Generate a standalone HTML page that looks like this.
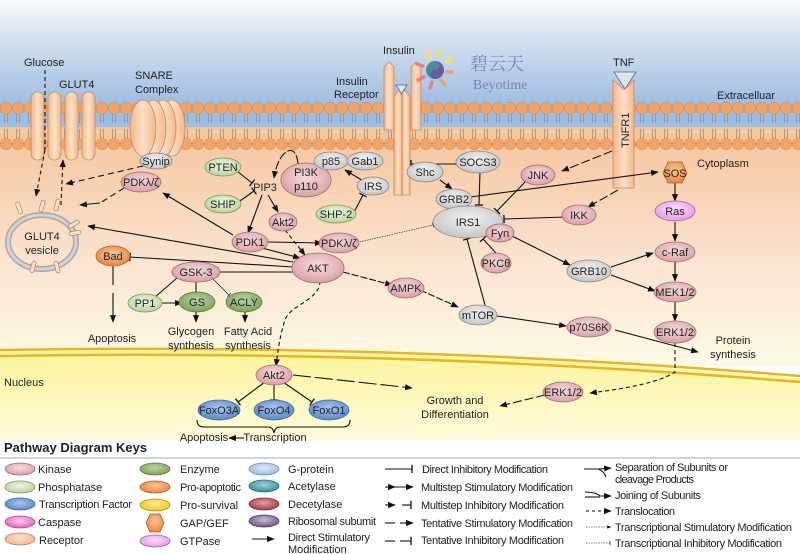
<!DOCTYPE html>
<html><head><meta charset="utf-8"><style>
html,body{margin:0;padding:0;background:#fff}
svg{display:block}
text{font-family:"Liberation Sans","Noto Sans CJK SC",sans-serif;font-size:11px;fill:#222}
.n text,text.c{text-anchor:middle}
</style></head><body>
<svg width="800" height="554" viewBox="0 0 800 554" xmlns="http://www.w3.org/2000/svg">
<defs>
<linearGradient id="bg" x1="0" y1="0" x2="0" y2="1">
<stop offset="0" stop-color="#fbfcfe"/><stop offset="0.35" stop-color="#d6e2f0"/><stop offset="1" stop-color="#9ebde2"/>
</linearGradient>
<linearGradient id="cy" x1="0" y1="0" x2="0" y2="1">
<stop offset="0" stop-color="#f6c49a"/><stop offset="0.55" stop-color="#fbe3cf"/><stop offset="1" stop-color="#fdfbe6"/>
</linearGradient>
<linearGradient id="nu" x1="0" y1="0" x2="0" y2="1">
<stop offset="0" stop-color="#fdf59a"/><stop offset="1" stop-color="#fefbe0"/>
</linearGradient>
<pattern id="mem" x="0" y="102" width="12" height="60" patternUnits="userSpaceOnUse">
<line x1="4.5" y1="6" x2="4.5" y2="21" stroke="#9a8f8a" stroke-width="0.8"/>
<line x1="7.5" y1="6" x2="7.5" y2="21" stroke="#9a8f8a" stroke-width="0.8"/>
<line x1="4.5" y1="27" x2="4.5" y2="42" stroke="#9a8f8a" stroke-width="0.8"/>
<line x1="7.5" y1="27" x2="7.5" y2="42" stroke="#9a8f8a" stroke-width="0.8"/>
<circle cx="6" cy="6" r="5.7" fill="#f2a56a" stroke="#d8874c" stroke-width="0.6"/>
<circle cx="6" cy="42" r="5.7" fill="#f2a56a" stroke="#d8874c" stroke-width="0.6"/>
</pattern>
<radialGradient id="pk" cx="0.5" cy="0.4" r="0.6"><stop offset="0" stop-color="#f6dadc"/><stop offset="1" stop-color="#d9a0a6"/></radialGradient>
<radialGradient id="gr" cx="0.5" cy="0.4" r="0.6"><stop offset="0" stop-color="#f4f4f4"/><stop offset="1" stop-color="#c4c4c4"/></radialGradient>
<radialGradient id="lg" cx="0.5" cy="0.4" r="0.6"><stop offset="0" stop-color="#eef6e4"/><stop offset="1" stop-color="#b8d49c"/></radialGradient>
<radialGradient id="dg" cx="0.5" cy="0.4" r="0.6"><stop offset="0" stop-color="#bcd4a4"/><stop offset="1" stop-color="#7ea05c"/></radialGradient>
<radialGradient id="bl" cx="0.5" cy="0.4" r="0.6"><stop offset="0" stop-color="#a9c6ee"/><stop offset="1" stop-color="#5a88c8"/></radialGradient>
<radialGradient id="or" cx="0.5" cy="0.4" r="0.6"><stop offset="0" stop-color="#f9c79a"/><stop offset="1" stop-color="#e8873c"/></radialGradient>
<radialGradient id="mg" cx="0.5" cy="0.4" r="0.6"><stop offset="0" stop-color="#fbe0fb"/><stop offset="1" stop-color="#e59ae6"/></radialGradient>
<radialGradient id="rc" cx="0.5" cy="0.4" r="0.6"><stop offset="0" stop-color="#fde3cf"/><stop offset="1" stop-color="#f2b88c"/></radialGradient>
<radialGradient id="yl" cx="0.5" cy="0.4" r="0.6"><stop offset="0" stop-color="#fff0a0"/><stop offset="1" stop-color="#f0c020"/></radialGradient>
<radialGradient id="cs" cx="0.5" cy="0.4" r="0.6"><stop offset="0" stop-color="#fcd0ec"/><stop offset="1" stop-color="#e860b8"/></radialGradient>
<radialGradient id="pb" cx="0.5" cy="0.4" r="0.6"><stop offset="0" stop-color="#dbe8f6"/><stop offset="1" stop-color="#9ebde0"/></radialGradient>
<radialGradient id="tl" cx="0.5" cy="0.4" r="0.6"><stop offset="0" stop-color="#9ed0d8"/><stop offset="1" stop-color="#3a8c9c"/></radialGradient>
<radialGradient id="dr" cx="0.5" cy="0.4" r="0.6"><stop offset="0" stop-color="#e0a0a0"/><stop offset="1" stop-color="#a04048"/></radialGradient>
<radialGradient id="pu" cx="0.5" cy="0.4" r="0.6"><stop offset="0" stop-color="#c8b8d8"/><stop offset="1" stop-color="#705888"/></radialGradient>
<linearGradient id="cap" x1="0" y1="0" x2="1" y2="0"><stop offset="0" stop-color="#f2b888"/><stop offset="0.5" stop-color="#fde0c8"/><stop offset="1" stop-color="#f2b888"/></linearGradient>
<marker id="a" viewBox="0 0 10 10" refX="9" refY="5" markerWidth="7" markerHeight="7" orient="auto"><path d="M0,1 L10,5 L0,9 Z" fill="#111"/></marker>
<marker id="t" viewBox="0 0 4 10" refX="2" refY="5" markerWidth="3" markerHeight="8" orient="auto"><line x1="2" y1="0" x2="2" y2="10" stroke="#111" stroke-width="1.6"/></marker>
</defs>

<!-- backgrounds -->
<rect x="0" y="0" width="800" height="105" fill="url(#bg)"/>
<rect x="0" y="126" width="800" height="240" fill="url(#cy)"/>
<path d="M0,352 Q400,345 800,378 L800,445 L0,445 Z" fill="url(#nu)"/>
<path d="M0,350 Q400,343 800,376" fill="none" stroke="#e8b420" stroke-width="2.5"/>
<path d="M0,356 Q400,349 800,382" fill="none" stroke="#e8b420" stroke-width="2.5"/>
<rect x="0" y="440" width="800" height="114" fill="#fff"/>
<rect x="0" y="104" width="800" height="23" fill="#9ebde2"/>
<rect x="0" y="102" width="800" height="48" fill="url(#mem)"/>

<!-- GLUT4 capsules -->
<g fill="url(#cap)" stroke="#c98a5c" stroke-width="0.8">
<rect x="31" y="92" width="13" height="68" rx="6.5"/>
<rect x="48" y="92" width="13" height="68" rx="6.5"/>
<rect x="65" y="92" width="13" height="68" rx="6.5"/>
<rect x="82" y="92" width="13" height="68" rx="6.5"/>
<!-- SNARE -->
<ellipse cx="172" cy="128" rx="13" ry="28"/>
<ellipse cx="163" cy="128" rx="13" ry="28"/>
<ellipse cx="153" cy="128" rx="13" ry="28"/>
<ellipse cx="143" cy="128" rx="13" ry="28"/>
</g>
<text x="24" y="66">Glucose</text>
<text x="59" y="88">GLUT4</text>
<text x="135" y="79">SNARE</text>
<text x="135" y="93">Complex</text>

<!-- insulin receptor -->
<g fill="url(#cap)" stroke="#c98a5c" stroke-width="0.8">
<path d="M384,130 L384,67 L389,62 L394,67 L394,130 Z"/>
<path d="M411,130 L411,67 L416,62 L421,67 L421,130 Z"/>
<path d="M394,195 L394,96 L402,88 L402,195 Z"/>
<path d="M402,195 L402,88 L410,96 L410,195 Z"/>
</g>
<path d="M396,85 L407,85 L401.5,94 Z" fill="#dde6ee" stroke="#666" stroke-width="0.8"/>
<text x="383" y="54">Insulin</text>
<text x="336" y="85">Insulin</text>
<text x="334" y="98">Receptor</text>
<!-- logo -->
<g stroke-width="3.5" stroke-linecap="round">
<line x1="438" y1="50" x2="440" y2="56" stroke="#f6e05a"/>
<line x1="452" y1="58" x2="446" y2="62" stroke="#f6e05a"/>
<line x1="452" y1="72" x2="447" y2="72" stroke="#e8a070"/>
<line x1="445" y1="85" x2="441" y2="80" stroke="#e8a070"/>
<line x1="430" y1="88" x2="432" y2="82" stroke="#e88080"/>
<line x1="418" y1="80" x2="424" y2="77" stroke="#e88080"/>
<line x1="417" y1="64" x2="423" y2="66" stroke="#e88080"/>
<line x1="427" y1="52" x2="429" y2="58" stroke="#f6e05a"/>
</g>
<circle cx="435" cy="70" r="9" fill="#4a8a9a"/>
<path d="M435,61 A9,9 0 0 1 435,79 A4.5,4.5 0 0 1 435,70 A4.5,4.5 0 0 0 435,61Z" fill="#6a5aa0"/>
<text x="470" y="70" style="font-family:'Noto Serif CJK SC',serif;font-size:18px;fill:#7888b0">碧云天</text>
<text x="473" y="89" style="font-family:'Liberation Serif',serif;font-size:14px;fill:#7888b0">Beyotime</text>

<!-- TNF -->
<path d="M614,72 L636,72 L625,89 Z" fill="#dde6ee" stroke="#666" stroke-width="0.8"/>
<path d="M613,188 L613,80 L624,90 L634,80 L634,188 Z" fill="url(#cap)" stroke="#c98a5c" stroke-width="0.8"/>
<text x="613" y="66">TNF</text>
<text transform="translate(629,148) rotate(-90)" x="0" y="0">TNFR1</text>
<text x="717" y="99">Extracelluar</text>
<text x="697" y="167">Cytoplasm</text>

<!-- GLUT4 vesicle -->
<ellipse cx="42" cy="242" rx="34" ry="27" fill="none" stroke="#a8a8a8" stroke-width="6"/>
<ellipse cx="42" cy="242" rx="34" ry="27" fill="none" stroke="#d4d4d4" stroke-width="3"/>
<g fill="#fbe2c6" stroke="#b08060" stroke-width="0.7">
<rect x="40" y="200" width="4" height="12" rx="2" transform="rotate(15 42 206)"/>
<rect x="55" y="199" width="4" height="12" rx="2" transform="rotate(15 57 205)"/>
<rect x="17" y="202" width="4" height="12" rx="2" transform="rotate(-20 19 208)"/>
<rect x="72" y="218" width="4" height="12" rx="2" transform="rotate(60 74 224)"/>
<rect x="73" y="227" width="4" height="12" rx="2" transform="rotate(80 75 233)"/>
<rect x="31" y="261" width="4" height="12" rx="2" transform="rotate(15 33 267)"/>
<rect x="55" y="261" width="4" height="12" rx="2" transform="rotate(-15 57 267)"/>
</g>
<text class="c" x="42" y="240" text-anchor="middle">GLUT4</text>
<text class="c" x="42" y="254" text-anchor="middle">vesicle</text>

<!-- edges -->
<g fill="none" stroke="#111" stroke-width="1.1">
<line x1="45" y1="70" x2="45" y2="150" stroke-dasharray="4,3"/>
<line x1="45" y1="150" x2="36" y2="196" stroke-dasharray="4,3" marker-end="url(#a)"/>
<line x1="61" y1="205" x2="63" y2="160" stroke-dasharray="4,3" marker-end="url(#a)"/>
<line x1="143" y1="166" x2="66" y2="184" stroke-dasharray="6,4" marker-end="url(#a)"/>
<line x1="124" y1="188" x2="100" y2="203" stroke-dasharray="6,4"/>
<line x1="100" y1="203" x2="80" y2="205" marker-end="url(#a)"/>
<line x1="233" y1="235" x2="163" y2="193" marker-end="url(#a)"/>
<line x1="293" y1="262" x2="88" y2="226" marker-end="url(#a)"/>
<line x1="293" y1="267" x2="130" y2="257" marker-end="url(#t)"/>
<line x1="293" y1="272" x2="218" y2="272" marker-end="url(#t)"/>
<line x1="343" y1="272" x2="392" y2="285" stroke-dasharray="7,2" marker-end="url(#a)"/>
<path d="M320,281 C320,300 290,305 285,320 C280,335 278,350 276,366" stroke-dasharray="4,3" marker-end="url(#a)"/>
<line x1="113" y1="266" x2="113" y2="285"/>
<line x1="113" y1="293" x2="113" y2="322" marker-end="url(#a)"/>
<line x1="177" y1="278" x2="154" y2="298" marker-end="url(#t)"/>
<line x1="196" y1="280" x2="196" y2="293" marker-end="url(#t)"/>
<line x1="213" y1="279" x2="229" y2="295" stroke-width="0.6" marker-end="url(#t)"/>
<line x1="157" y1="303" x2="182" y2="303" marker-end="url(#a)"/>
<line x1="196" y1="311" x2="196" y2="322" marker-end="url(#a)"/>
<line x1="245" y1="311" x2="245" y2="322" marker-end="url(#a)"/>
<line x1="237" y1="171" x2="252" y2="183" marker-end="url(#t)"/>
<line x1="237" y1="203" x2="254" y2="191" marker-end="url(#t)"/>
<path d="M298,164 C296,140 278,150 274,178" marker-end="url(#a)" stroke-dasharray="9,2"/>
<line x1="262" y1="195" x2="248" y2="233" marker-end="url(#a)"/>
<line x1="268" y1="195" x2="278" y2="212" marker-end="url(#a)"/>
<line x1="268" y1="242" x2="322" y2="243" marker-end="url(#a)"/>
<line x1="262" y1="248" x2="300" y2="258" marker-end="url(#a)"/>
<line x1="285" y1="230" x2="305" y2="255" stroke-dasharray="4,3" marker-end="url(#a)"/>
<line x1="355" y1="243" x2="433" y2="225" stroke-width="0.6" stroke-dasharray="1.5,1" marker-end="url(#t)"/>
<line x1="353" y1="214" x2="363" y2="195" marker-end="url(#t)"/>
<line x1="365" y1="182" x2="345" y2="170" marker-end="url(#a)"/>
<line x1="460" y1="164" x2="411" y2="164" marker-end="url(#t)"/>
<line x1="480" y1="172" x2="479" y2="205" marker-end="url(#t)"/>
<line x1="440" y1="180" x2="452" y2="189" marker-end="url(#a)"/>
<line x1="470" y1="197" x2="658" y2="172" marker-end="url(#a)"/>
<line x1="612" y1="151" x2="562" y2="171" stroke-dasharray="9,3" marker-end="url(#a)"/>
<line x1="618" y1="190" x2="588" y2="207" stroke-dasharray="9,3" marker-end="url(#a)"/>
<line x1="526" y1="181" x2="497" y2="211" marker-end="url(#t)"/>
<line x1="566" y1="217" x2="504" y2="219" marker-end="url(#t)"/>
<line x1="488" y1="316" x2="467" y2="239" marker-end="url(#t)"/>
<line x1="496" y1="253" x2="483" y2="239" marker-end="url(#t)"/>
<line x1="512" y1="236" x2="570" y2="265" marker-end="url(#a)"/>
<line x1="611" y1="267" x2="653" y2="253" marker-end="url(#a)"/>
<line x1="611" y1="275" x2="655" y2="291" marker-end="url(#a)"/>
<line x1="675" y1="183" x2="675" y2="201" marker-end="url(#a)"/>
<line x1="675" y1="222" x2="675" y2="241" marker-end="url(#a)"/>
<line x1="675" y1="262" x2="675" y2="281" marker-end="url(#a)"/>
<line x1="675" y1="302" x2="675" y2="321" marker-end="url(#a)"/>
<line x1="420" y1="290" x2="458" y2="307" stroke-dasharray="7,2" marker-end="url(#a)"/>
<line x1="497" y1="316" x2="566" y2="326" marker-end="url(#a)"/>
<line x1="615" y1="330" x2="698" y2="352" marker-end="url(#a)"/>
<path d="M675,343 L675,372 C660,382 630,388 590,393" stroke-dasharray="4,3" marker-end="url(#a)"/>
<line x1="545" y1="395" x2="500" y2="406" stroke-dasharray="9,3" marker-end="url(#a)"/>
<line x1="293" y1="375" x2="412" y2="388" stroke-dasharray="18,4" marker-end="url(#a)"/>
<line x1="265" y1="382" x2="238" y2="402" marker-end="url(#t)"/>
<line x1="274" y1="384" x2="274" y2="400" marker-end="url(#t)"/>
<line x1="283" y1="382" x2="312" y2="402" marker-end="url(#t)"/>
<path d="M197,420 Q197,427 204,427 L268,427 Q273,427 274,433 Q275,427 280,427 L343,427 Q350,427 350,420"/>
<line x1="244" y1="438" x2="229" y2="438" marker-end="url(#a)"/>
</g>

<!-- nodes -->
<g class="n" stroke-width="0.8">
<ellipse cx="156" cy="161" rx="16" ry="8" fill="url(#gr)" stroke="#888"/><text x="156" y="165">Synip</text>
<ellipse cx="223" cy="167" rx="18" ry="9" fill="url(#lg)" stroke="#7a9a5a"/><text x="223" y="171">PTEN</text>
<ellipse cx="223" cy="204" rx="18" ry="9" fill="url(#lg)" stroke="#7a9a5a"/><text x="223" y="208">SHIP</text>
<text x="265" y="191">PIP3</text>
<ellipse cx="306" cy="180" rx="25" ry="17" fill="url(#pk)" stroke="#a06870"/><text x="306" y="176">PI3K</text><text x="306" y="190">p110</text>
<ellipse cx="331" cy="161" rx="17" ry="9" fill="url(#gr)" stroke="#888"/><text x="331" y="165">p85</text>
<ellipse cx="365" cy="161" rx="18" ry="9" fill="url(#gr)" stroke="#888"/><text x="365" y="165">Gab1</text>
<ellipse cx="373" cy="186" rx="16" ry="9" fill="url(#gr)" stroke="#888"/><text x="373" y="190">IRS</text>
<ellipse cx="336" cy="214" rx="20" ry="9" fill="url(#lg)" stroke="#7a9a5a"/><text x="336" y="218">SHP-2</text>
<ellipse cx="283" cy="222" rx="14" ry="9" fill="url(#pk)" stroke="#a06870"/><text x="283" y="226">Akt2</text>
<ellipse cx="250" cy="242" rx="18" ry="10" fill="url(#pk)" stroke="#a06870"/><text x="250" y="246">PDK1</text>
<ellipse cx="141" cy="182" rx="20" ry="10" fill="url(#pk)" stroke="#a06870"/><text x="141" y="186">PDKλ/ζ</text>
<ellipse cx="339" cy="243" rx="20" ry="10" fill="url(#pk)" stroke="#a06870"/><text x="339" y="247">PDKλ/ζ</text>
<ellipse cx="318" cy="268" rx="26" ry="15" fill="url(#pk)" stroke="#a06870"/><text x="318" y="272">AKT</text>
<ellipse cx="425" cy="172" rx="18" ry="10" fill="url(#gr)" stroke="#888"/><text x="425" y="176">Shc</text>
<ellipse cx="478" cy="162" rx="22" ry="11" fill="url(#gr)" stroke="#888"/><text x="478" y="166">SOCS3</text>
<ellipse cx="454" cy="199" rx="18" ry="10" fill="url(#gr)" stroke="#888"/><text x="454" y="203">GRB2</text>
<ellipse cx="468" cy="222" rx="35" ry="16" fill="url(#gr)" stroke="#888"/><text x="468" y="226">IRS1</text>
<ellipse cx="500" cy="233" rx="14" ry="9" fill="url(#pk)" stroke="#a06870"/><text x="500" y="237">Fyn</text>
<ellipse cx="496" cy="263" rx="15" ry="10" fill="url(#pk)" stroke="#a06870"/><text x="496" y="267">PKCθ</text>
<ellipse cx="538" cy="175" rx="17" ry="10" fill="url(#pk)" stroke="#a06870"/><text x="538" y="179">JNK</text>
<ellipse cx="579" cy="215" rx="17" ry="10" fill="url(#pk)" stroke="#a06870"/><text x="579" y="219">IKK</text>
<polygon points="663,173 668,162 682,162 687,173 682,183 668,183" fill="url(#or)" stroke="#b0601c"/><text x="675" y="177">SOS</text>
<ellipse cx="675" cy="211" rx="20" ry="10" fill="url(#mg)" stroke="#a060a8"/><text x="675" y="215">Ras</text>
<ellipse cx="675" cy="252" rx="20" ry="10" fill="url(#pk)" stroke="#a06870"/><text x="675" y="256">c-Raf</text>
<ellipse cx="589" cy="271" rx="22" ry="11" fill="url(#gr)" stroke="#888"/><text x="589" y="275">GRB10</text>
<ellipse cx="675" cy="292" rx="21" ry="10" fill="url(#pk)" stroke="#a06870"/><text x="675" y="296">MEK1/2</text>
<ellipse cx="675" cy="332" rx="21" ry="11" fill="url(#pk)" stroke="#a06870"/><text x="675" y="336">ERK1/2</text>
<ellipse cx="589" cy="327" rx="22" ry="10" fill="url(#pk)" stroke="#a06870"/><text x="589" y="331">p70S6K</text>
<ellipse cx="478" cy="315" rx="19" ry="10" fill="url(#gr)" stroke="#888"/><text x="478" y="319">mTOR</text>
<ellipse cx="406" cy="288" rx="18" ry="10" fill="url(#pk)" stroke="#a06870"/><text x="406" y="292">AMPK</text>
<ellipse cx="113" cy="256" rx="17" ry="10" fill="url(#or)" stroke="#b0601c"/><text x="113" y="260">Bad</text>
<ellipse cx="196" cy="272" rx="24" ry="10" fill="url(#pk)" stroke="#a06870"/><text x="196" y="276">GSK-3</text>
<ellipse cx="145" cy="303" rx="17" ry="9" fill="url(#lg)" stroke="#7a9a5a"/><text x="145" y="307">PP1</text>
<ellipse cx="197" cy="302" rx="18" ry="10" fill="url(#dg)" stroke="#5a7a3a"/><text x="197" y="306">GS</text>
<ellipse cx="244" cy="302" rx="18" ry="10" fill="url(#dg)" stroke="#5a7a3a"/><text x="244" y="306">ACLY</text>
<ellipse cx="274" cy="375" rx="18" ry="10" fill="url(#pk)" stroke="#a06870"/><text x="274" y="379">Akt2</text>
<ellipse cx="219" cy="410" rx="21" ry="10" fill="url(#bl)" stroke="#3a68a8"/><text x="219" y="414">FoxO3A</text>
<ellipse cx="274" cy="410" rx="20" ry="10" fill="url(#bl)" stroke="#3a68a8"/><text x="274" y="414">FoxO4</text>
<ellipse cx="329" cy="410" rx="20" ry="10" fill="url(#bl)" stroke="#3a68a8"/><text x="329" y="414">FoxO1</text>
<ellipse cx="563" cy="392" rx="20" ry="10" fill="url(#pk)" stroke="#a06870"/><text x="563" y="396">ERK1/2</text>
</g>
<g class="n">
<text x="112" y="342">Apoptosis</text>
<text x="191" y="335">Glycogen</text><text x="191" y="349">synthesis</text>
<text x="248" y="335">Fatty Acid</text><text x="248" y="349">synthesis</text>
<text x="733" y="344">Protein</text><text x="733" y="358">synthesis</text>
<text x="455" y="404">Growth and</text><text x="455" y="418">Differentiation</text>
<text x="204" y="441">Apoptosis</text><text x="275" y="441">Transcription</text>
</g>
<text x="4" y="386">Nucleus</text>

<!-- legend -->
<text x="4" y="452" style="font-weight:bold;font-size:13px">Pathway Diagram Keys</text>
<line x1="0" y1="458" x2="800" y2="458" stroke="#b8c8d8" stroke-width="1.5"/>
<g stroke-width="0.8">
<ellipse cx="20" cy="469" rx="15" ry="6" fill="url(#pk)" stroke="#a06870"/>
<ellipse cx="20" cy="487" rx="15" ry="6" fill="url(#lg)" stroke="#7a9a5a"/>
<ellipse cx="20" cy="504" rx="15" ry="6" fill="url(#bl)" stroke="#3a68a8"/>
<ellipse cx="20" cy="522" rx="15" ry="6" fill="url(#cs)" stroke="#b04890"/>
<ellipse cx="20" cy="539" rx="15" ry="6" fill="url(#rc)" stroke="#c08050"/>
<ellipse cx="155" cy="469" rx="15" ry="6" fill="url(#dg)" stroke="#5a7a3a"/>
<ellipse cx="155" cy="487" rx="15" ry="6" fill="url(#or)" stroke="#b0601c"/>
<ellipse cx="155" cy="505" rx="15" ry="6" fill="url(#yl)" stroke="#b09010"/>
<polygon points="146,523 150,514 160,514 164,523 160,532 150,532" fill="url(#or)" stroke="#b0601c"/>
<ellipse cx="155" cy="541" rx="15" ry="6" fill="url(#mg)" stroke="#a060a8"/>
<ellipse cx="264" cy="469" rx="15" ry="6" fill="url(#pb)" stroke="#6a90c0"/>
<ellipse cx="264" cy="486" rx="15" ry="6" fill="url(#tl)" stroke="#2a6a78"/>
<ellipse cx="264" cy="504" rx="15" ry="6" fill="url(#dr)" stroke="#802830"/>
<ellipse cx="264" cy="521" rx="15" ry="6" fill="url(#pu)" stroke="#503868"/>
</g>
<g style="font-size:10px">
<text x="38" y="473">Kinase</text>
<text x="38" y="491">Phosphatase</text>
<text x="39" y="508" textLength="93">Transcription  Factor</text>
<text x="38" y="526">Caspase</text>
<text x="39" y="544">Receptor</text>
<text x="180" y="473">Enzyme</text>
<text x="180" y="491" textLength="61">Pro-apoptotic</text>
<text x="180" y="509">Pro-survival</text>
<text x="180" y="527">GAP/GEF</text>
<text x="180" y="545">GTPase</text>
<text x="288" y="473">G-protein</text>
<text x="288" y="490">Acetylase</text>
<text x="288" y="508">Decetylase</text>
<text x="288" y="525" textLength="88">Ribosomal subumit</text>
<text x="288" y="541" textLength="82">Direct Stimulatory</text>
<text x="288" y="553">Modification</text>
<text x="422" y="473" textLength="126">Direct Inhibitory Modification</text>
<text x="421" y="491" textLength="152">Multistep Stimulatory Modification</text>
<text x="421" y="509" textLength="143">Multistep Inhibitory Modification</text>
<text x="421" y="527" textLength="152">Tentative Stimulatory Modification</text>
<text x="421" y="544" textLength="143">Tentative Inhibitory Modification</text>
<text x="615" y="471" textLength="113">Separation of Subunits or</text>
<text x="615" y="483" textLength="79">cleavage Products</text>
<text x="615" y="499" textLength="86">Joining of Subunits</text>
<text x="615" y="515" textLength="60">Translocation</text>
<text x="615" y="531" textLength="177">Transcriptional Stimulatory Modification</text>
<text x="615" y="547" textLength="167">Transcriptional Inhibitory Modification</text>
</g>
<g fill="none" stroke="#111" stroke-width="1.1">
<line x1="252" y1="539" x2="274" y2="539" marker-end="url(#a)"/>
<line x1="385" y1="469" x2="412" y2="469" marker-end="url(#t)"/>
<line x1="385" y1="487" x2="395" y2="487" marker-end="url(#a)"/>
<line x1="395" y1="487" x2="413" y2="487" marker-end="url(#a)"/>
<line x1="385" y1="505" x2="395" y2="505" marker-end="url(#a)"/>
<line x1="402" y1="505" x2="411" y2="505" marker-end="url(#t)"/>
<line x1="385" y1="523" x2="395" y2="523"/>
<line x1="400" y1="523" x2="413" y2="523" marker-end="url(#a)"/>
<line x1="385" y1="541" x2="395" y2="541"/>
<line x1="400" y1="541" x2="411" y2="541" marker-end="url(#t)"/>
<path d="M584,469 L598,469 L611,468" marker-end="url(#a)"/>
<path d="M598,469 Q604,471 606,477"/>
<path d="M585,492 Q596,492 600,496 L611,496" marker-end="url(#a)"/>
<path d="M585,497 L600,497"/>
<line x1="586" y1="511" x2="611" y2="511" stroke-dasharray="3,3" marker-end="url(#a)"/>
<line x1="586" y1="527" x2="611" y2="527" stroke-width="0.6" stroke-dasharray="1.5,1" marker-end="url(#a)"/>
<line x1="586" y1="543" x2="610" y2="543" stroke-width="0.6" stroke-dasharray="1.5,1" marker-end="url(#t)"/>
</g>
</svg>
</body></html>
